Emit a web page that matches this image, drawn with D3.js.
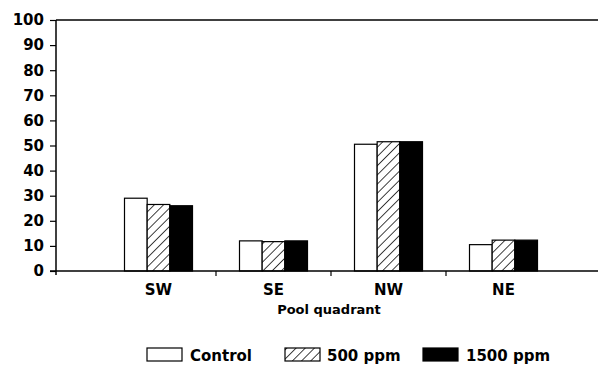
<!DOCTYPE html>
<html>
<head>
<meta charset="utf-8">
<script src="https://cdn.jsdelivr.net/npm/d3@7"></script>
<style>
  body { margin: 0; background: #fff; }
  text { font-family: "DejaVu Sans", sans-serif; fill: #000; }
</style>
</head>
<body>
<svg></svg>
<script>
let quadrants = ["SW", "SE", "NW", "NE"]
let seriesNames = ["Control", "500 ppm", "1500 ppm"]
let control = [29, 12, 50.5, 10.5]
let ppm500 = [26.5, 11.7, 51.5, 12.3]
let ppm1500 = [26, 12, 51.5, 12.3]
let yTicks = [0, 10, 20, 30, 40, 50, 60, 70, 80, 90, 100]

let width = 598
let height = 365
let axisX = 56
let plotTop = 20
let plotBottom = 271

let svg = d3.select("svg").attr("width", width).attr("height", height)

let defs = svg.append("defs")
let pat = defs.append("pattern")
  .attr("id", "hatch")
  .attr("patternUnits", "userSpaceOnUse")
  .attr("width", 6.5).attr("height", 6.5)
  .attr("patternTransform", "rotate(45)")
pat.append("rect").attr("width", 6.5).attr("height", 6.5).attr("fill", "#fff")
pat.append("line").attr("x1", 0).attr("y1", 0).attr("x2", 0).attr("y2", 6.5)
  .attr("stroke", "#000").attr("stroke-width", 1.5)

let fills = ["#fff", "url(#hatch)", "#000"]

let yScale = d3.scaleLinear().domain([0, 100]).range([plotBottom, plotTop])
let xScale = d3.scaleBand().domain(quadrants).range([101, 561])
let inner = d3.scaleBand().domain(seriesNames).range([0, 68])

let series = [control, ppm500, ppm1500]

// y axis
let yAxis = d3.axisLeft(yScale).tickValues(yTicks).tickSize(6).tickPadding(6)
let yg = svg.append("g").attr("transform", "translate(" + axisX + ",0)").call(yAxis)
yg.select(".domain").remove()
yg.selectAll("line").attr("stroke", "#000").attr("stroke-width", 1.2)
yg.selectAll("text").style("font-size", "15px").style("font-weight", "bold")
yg.attr("font-family", null)

svg.append("line").attr("x1", axisX).attr("x2", axisX).attr("y1", plotTop).attr("y2", plotBottom + 4)
  .attr("stroke", "#000").attr("stroke-width", 1.5)
svg.append("line").attr("x1", axisX).attr("x2", width).attr("y1", plotTop).attr("y2", plotTop)
  .attr("stroke", "#000").attr("stroke-width", 1.5)

// bars
quadrants.forEach((q, i) => {
  let cx = xScale(q) + xScale.bandwidth() / 2 - 34
  series.forEach((vals, s) => {
    svg.append("rect")
      .attr("x", cx + inner(seriesNames[s]))
      .attr("y", yScale(vals[i]))
      .attr("width", inner.bandwidth())
      .attr("height", plotBottom - yScale(vals[i]))
      .attr("fill", fills[s])
      .attr("stroke", "#000")
      .attr("stroke-width", 1.2)
  })
})

// x axis
svg.append("line").attr("x1", axisX - 6).attr("x2", width).attr("y1", plotBottom).attr("y2", plotBottom)
  .attr("stroke", "#000").attr("stroke-width", 1.5)
let boundaries = quadrants.slice(1).map(q => xScale(q))
svg.selectAll(".xtick").data(boundaries).enter().append("line")
  .attr("x1", d => d).attr("x2", d => d).attr("y1", plotBottom).attr("y2", plotBottom + 5)
  .attr("stroke", "#000").attr("stroke-width", 1.2)
svg.selectAll(".xlab").data(quadrants).enter().append("text")
  .attr("x", d => xScale(d) + xScale.bandwidth() / 2)
  .attr("y", 295)
  .attr("text-anchor", "middle")
  .style("font-size", "15px").style("font-weight", "bold")
  .text(d => d)

svg.append("text").attr("x", 329).attr("y", 314).attr("text-anchor", "middle")
  .style("font-size", "13px").style("font-weight", "bold").text("Pool quadrant")

// legend
let legendX = [147, 285, 423]
let legendTextX = [190, 327, 466]
seriesNames.forEach((n, s) => {
  svg.append("rect").attr("x", legendX[s]).attr("y", 348).attr("width", 35).attr("height", 13)
    .attr("fill", fills[s]).attr("stroke", "#000").attr("stroke-width", 1.2)
  svg.append("text").attr("x", legendTextX[s]).attr("y", 361)
    .style("font-size", "15px").style("font-weight", "bold").text(n)
})
</script>
</body>
</html>
